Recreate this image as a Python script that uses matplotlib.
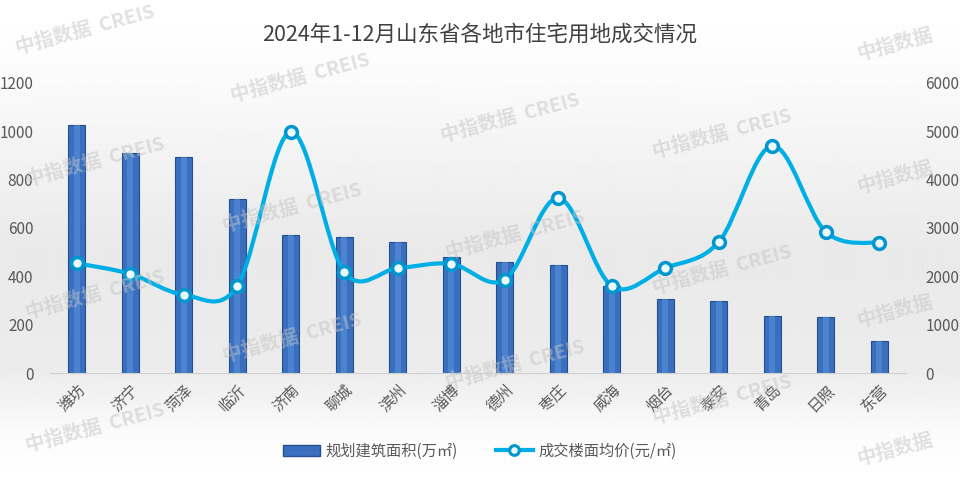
import numpy as np
import matplotlib
matplotlib.use('Agg')
import matplotlib.pyplot as plt
from matplotlib.path import Path
from matplotlib.patches import PathPatch, Patch
from matplotlib.lines import Line2D

plt.rcParams['font.family'] = ['Noto Sans CJK SC', 'DejaVu Sans']

# 数据
cities = ['潍坊', '济宁', '菏泽', '临沂', '济南', '聊城', '滨州', '淄博',
          '德州', '枣庄', '威海', '烟台', '泰安', '青岛', '日照', '东营']
area = [1027, 910, 894, 720, 571, 561, 540, 480, 460, 447, 358, 305, 298, 236, 232, 133]
price = [2270, 2050, 1620, 1800, 4990, 2090, 2170, 2260, 1930, 3620, 1800, 2170, 2710, 4700, 2920, 2690]
title = '2024年1-12月山东省各地市住宅用地成交情况'

W, H = 960, 491
fig = plt.figure(figsize=(W / 100, H / 100), dpi=100)

# 背景渐变
bg = fig.add_axes([0, 0, 1, 1], zorder=-10)
rows = np.arange(H)
shade = np.interp(rows, [0, 60, 250, 370, 440, 491], [1.0, 0.99, 0.915, 0.925, 0.99, 1.0])
bg.imshow(np.repeat(shade[:, None], 4, axis=1), cmap='gray', vmin=0, vmax=1,
          aspect='auto', extent=[0, 1, 0, 1], interpolation='bilinear')
bg.axis('off')

# 水印
wm = [(85, 30), (300, 78), (510, 118), (722, 134), (895, 45),
      (95, 162), (292, 208), (515, 235), (722, 270), (895, 178),
      (95, 295), (292, 338), (515, 365), (722, 400), (895, 312),
      (95, 428), (895, 450)]
for px, py in wm:
    s = '中指数据' if px > 850 else '中指数据  CREIS'
    fig.text(px / W, 1 - py / H, s, fontsize=14, fontweight='bold', color='#c4c4c4',
             alpha=0.5, rotation=15, ha='center', va='center', zorder=20)

ax = fig.add_axes([50 / W, 1 - 373 / H, 856 / W, 290 / H])
ax.patch.set_visible(False)
x = np.arange(len(cities))

ax.bar(x, area, width=0.32, color='#3a6fbf', edgecolor='#244f8e', linewidth=0.8, zorder=2)
ax.bar(x, area, width=0.12, color='#5c95de', alpha=0.55, zorder=3)
ax.set_xlim(-0.5, len(cities) - 0.5)
ax.set_ylim(0, 1200)
ax.set_yticks(range(0, 1201, 200))
for s in ['top', 'right', 'left']:
    ax.spines[s].set_visible(False)
ax.spines['bottom'].set_color('#d0d0d0')
ax.tick_params(axis='y', length=0, pad=12, labelsize=11, labelcolor='#595959')
ax.tick_params(axis='x', length=0, pad=6)
ax.set_xticks(x)
ax.set_xticklabels(cities, rotation=45, ha='right', va='top', rotation_mode='anchor',
                   fontsize=11, color='#595959')

ax2 = ax.twinx()
ax2.set_ylim(0, 6000)
ax2.set_yticks(range(0, 6001, 1000))
for s in ['top', 'right', 'left', 'bottom']:
    ax2.spines[s].set_visible(False)
ax2.tick_params(axis='y', length=0, pad=14, labelsize=11, labelcolor='#595959')

# 平滑曲线 (Catmull-Rom -> Bezier)
pts = np.column_stack([x, price]).astype(float)
verts = [tuple(pts[0])]
codes = [Path.MOVETO]
n = len(pts)
for i in range(n - 1):
    p0 = pts[max(i - 1, 0)]
    p1 = pts[i]
    p2 = pts[i + 1]
    p3 = pts[min(i + 2, n - 1)]
    c1 = p1 + (p2 - p0) / 6
    c2 = p2 - (p3 - p1) / 6
    verts += [tuple(c1), tuple(c2), tuple(p2)]
    codes += [Path.CURVE4] * 3
ax2.add_patch(PathPatch(Path(verts, codes), fill=False, edgecolor='#00aee6', lw=3, zorder=4))
ax2.plot(x, price, linestyle='none', marker='o', markersize=8.5, markerfacecolor='#eafaff',
         markeredgecolor='#0097cf', markeredgewidth=2.5, zorder=5)

fig.text(0.5, 1 - 35 / H, title, ha='center', va='center', fontsize=15.5, color='#404040')

handles = [Patch(facecolor='#3a6fbf', edgecolor='#244f8e'),
           Line2D([0], [0], color='#00aee6', lw=3, marker='o', markersize=7,
                  markerfacecolor='#eafaff', markeredgecolor='#0097cf', markeredgewidth=2.2)]
fig.legend(handles, ['规划建筑面积(万㎡)', '成交楼面均价(元/㎡)'], loc='center',
           bbox_to_anchor=(480 / W, 1 - 451 / H), ncol=2, frameon=False, fontsize=11,
           labelcolor='#595959', handlelength=2.4, columnspacing=2.5, handletextpad=0.4)

fig.savefig('out.png', dpi=100)
